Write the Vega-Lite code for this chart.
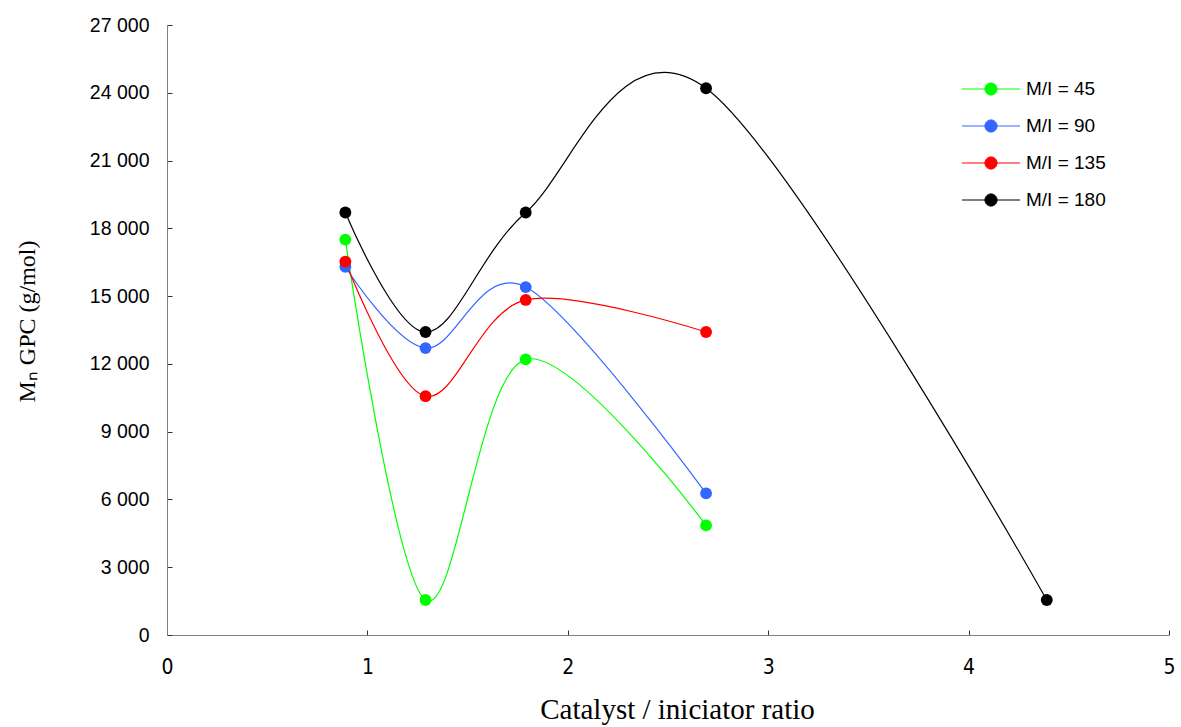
{
  "$schema": "https://vega.github.io/schema/vega-lite/v6.json",
  "width": 1002,
  "height": 610,
  "autosize": {"type": "none"},
  "padding": {"left": 167, "top": 25, "right": 12, "bottom": 92},
  "background": "white",
  "config": {
    "view": {"stroke": null},
    "axis": {"grid": false, "domainColor": "#808080", "tickColor": "#333333", "labelColor": "#000000", "titleColor": "#000000"}
  },
  "data": {
    "values": [
      {"series": "M/I = 45", "ratio": 0.89, "mn": 17500},
      {"series": "M/I = 45", "ratio": 1.29, "mn": 1550},
      {"series": "M/I = 45", "ratio": 1.79, "mn": 12200},
      {"series": "M/I = 45", "ratio": 2.69, "mn": 4850},
      {"series": "M/I = 90", "ratio": 0.89, "mn": 16300},
      {"series": "M/I = 90", "ratio": 1.29, "mn": 12700},
      {"series": "M/I = 90", "ratio": 1.79, "mn": 15400},
      {"series": "M/I = 90", "ratio": 2.69, "mn": 6270},
      {"series": "M/I = 135", "ratio": 0.89, "mn": 16530},
      {"series": "M/I = 135", "ratio": 1.29, "mn": 10570},
      {"series": "M/I = 135", "ratio": 1.79, "mn": 14830},
      {"series": "M/I = 135", "ratio": 2.69, "mn": 13410},
      {"series": "M/I = 180", "ratio": 0.89, "mn": 18700},
      {"series": "M/I = 180", "ratio": 1.29, "mn": 13410},
      {"series": "M/I = 180", "ratio": 1.79, "mn": 18700},
      {"series": "M/I = 180", "ratio": 2.69, "mn": 24200},
      {"series": "M/I = 180", "ratio": 4.39, "mn": 1550}
    ]
  },
  "encoding": {
    "x": {
      "field": "ratio", "type": "quantitative",
      "scale": {"domain": [0, 5], "nice": false, "zero": false},
      "axis": {
        "title": "Catalyst / iniciator ratio",
        "values": [0, 1, 2, 3, 4, 5],
        "tickSize": -5,
        "labelPadding": 26,
        "labelFont": "Liberation Sans Narrow, DejaVu Sans Condensed, Liberation Sans",
        "labelFontSize": 21,
        "labelFlush": false,
        "titleFont": "Liberation Serif",
        "titleFontSize": 29,
        "titleFontWeight": "normal",
        "titleX": 510,
        "titleY": 83,
        "titleBaseline": "alphabetic"
      }
    },
    "y": {
      "field": "mn", "type": "quantitative",
      "scale": {"domain": [0, 27000], "nice": false},
      "axis": {
        "title": "Mₙ GPC (g/mol)",
        "values": [0, 3000, 6000, 9000, 12000, 15000, 18000, 21000, 24000, 27000],
        "labelExpr": "replace(format(datum.value, ','), ',', ' ')",
        "tickSize": -5,
        "labelPadding": 23,
        "labelFont": "Liberation Sans",
        "labelFontSize": 19.5,
        "labelFlush": false,
        "titleFont": "Liberation Serif",
        "titleFontSize": 24,
        "titleFontWeight": "normal",
        "titleAngle": -90,
        "titleX": -140,
        "titleY": 296,
        "titleBaseline": "middle",
        "titleAlign": "center"
      }
    },
    "color": {
      "field": "series", "type": "nominal",
      "scale": {
        "domain": ["M/I = 45", "M/I = 90", "M/I = 135", "M/I = 180"],
        "range": ["#00FF00", "#3366FF", "#FF0000", "#000000"]
      },
      "legend": {
        "title": null,
        "orient": "none",
        "legendX": 809,
        "legendY": 49,
        "symbolType": "M-2,0L2,0M-0.42,0A0.42,0.42,0,1,1,0.42,0A0.42,0.42,0,1,1,-0.42,0Z",
        "symbolSize": 841,
        "symbolStrokeWidth": 1,
        "labelFont": "Liberation Sans",
        "labelFontSize": 19,
        "labelOffset": 20,
        "rowPadding": 12
      }
    }
  },
  "layer": [
    {
      "mark": {"type": "line", "interpolate": "cardinal", "strokeWidth": 1.2}
    },
    {
      "mark": {"type": "point", "filled": true, "shape": "circle", "size": 140, "opacity": 1}
    }
  ]
}
